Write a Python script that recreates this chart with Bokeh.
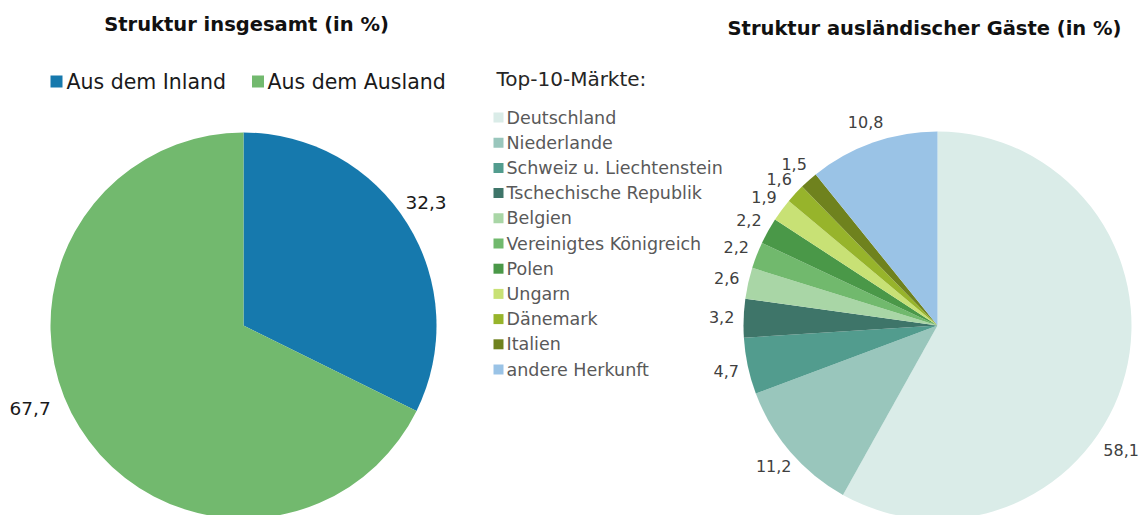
import math
from bokeh.plotting import figure
from bokeh.models import Range1d, ColumnDataSource
from bokeh.embed import file_html
from bokeh.resources import INLINE
from bokeh.core.properties import value

# ---------------- data ----------------
left_title = "Struktur insgesamt (in %)"
left_categories = ["Aus dem Inland", "Aus dem Ausland"]
left_values = [32.3, 67.7]
left_colors = ["#1679ad", "#72b96e"]

right_title = "Struktur ausländischer Gäste (in %)"
right_legend_title = "Top-10-Märkte:"
right_categories = ["Deutschland", "Niederlande", "Schweiz u. Liechtenstein",
                    "Tschechische Republik", "Belgien", "Vereinigtes Königreich",
                    "Polen", "Ungarn", "Dänemark", "Italien", "andere Herkunft"]
right_values = [58.1, 11.2, 4.7, 3.2, 2.6, 2.2, 2.2, 1.9, 1.6, 1.5, 10.8]
right_colors = ["#daece8", "#99c6bc", "#529c8e", "#3e7569", "#a9d6a6", "#71b96d",
                "#4a9848", "#c8e175", "#97b42b", "#6f821e", "#9ac3e6"]

# ---------------- layout ----------------
W, H = 1144, 515
FONT = "DejaVu Sans"


def X(px):
    return px


def Y(py):
    return H - py


p = figure(width=W, height=H, output_backend="svg", toolbar_location=None,
           x_range=Range1d(0, W), y_range=Range1d(0, H), min_border=0)
p.axis.visible = False
p.grid.visible = False
p.outline_line_color = None
p.background_fill_color = "white"
p.border_fill_color = "white"


def fmt(v):
    return f"{v:.1f}".replace(".", ",")


def pie(cx, cy, r, vals, cols, lab_r, shifts, rextra, size, color):
    total = sum(vals)
    c0 = 0.0
    starts, ends, lx, ly, txt = [], [], [], [], []
    for i, v in enumerate(vals):
        c1 = c0 + v / total
        starts.append(math.pi / 2 - 2 * math.pi * c0)
        ends.append(math.pi / 2 - 2 * math.pi * c1)
        mid = (c0 + c1) / 2 * 360 + shifts.get(i, 0)
        rr = lab_r + rextra.get(i, 0)
        lx.append(cx + rr * math.sin(math.radians(mid)))
        ly.append(cy + rr * math.cos(math.radians(mid)))
        txt.append(fmt(v))
        c0 = c1
    src = ColumnDataSource(dict(s=starts, e=ends, c=cols))
    p.wedge(x=cx, y=cy, radius=r, start_angle="s", end_angle="e",
            direction="clock", fill_color="c", line_color=None, source=src)
    p.text(x=lx, y=ly, text=txt, text_align="center", text_baseline="middle",
           text_font=value(FONT), text_font_size=f"{size}px", text_color=color)


# left pie
pie(X(243), Y(325), 193, left_values, left_colors, 220,
    {0: -2.1, 1: 10.6}, {1: 9}, 18.5, "#1a1a1a")
# right pie
pie(X(937), Y(325), 194, right_values, right_colors, 216,
    {0: 19.6}, {0: 6}, 16, "#404040")

# titles
p.text(x=[X(246), X(924)], y=[Y(24), Y(28)], text=[left_title, right_title],
       text_align="center", text_baseline="middle", text_font=value(FONT),
       text_font_size="19.5px", text_font_style="bold", text_color="#111111")

# left legend
lg_x = [X(56), X(257.5)]
p.scatter(x=lg_x, y=[Y(81)] * 2, marker="square", size=12,
          fill_color=left_colors, line_color=None)
p.text(x=[X(66), X(267)], y=[Y(81)] * 2, text=left_categories,
       text_align="left", text_baseline="middle", text_font=value(FONT),
       text_font_size="20.5px", text_color="#1a1a1a")

# right legend
p.text(x=[X(496)], y=[Y(78)], text=[right_legend_title], text_align="left",
       text_baseline="middle", text_font=value(FONT), text_font_size="20px",
       text_color="#262626")
n = len(right_categories)
ry = [Y(117 + 25.2 * i) for i in range(n)]
p.scatter(x=[X(498)] * n, y=ry, marker="square", size=10,
          fill_color=right_colors, line_color=None)
p.text(x=[X(506)] * n, y=ry, text=right_categories, text_align="left",
       text_baseline="middle", text_font=value(FONT), text_font_size="17.5px",
       text_color="#595959")

open("out.html", "w").write(file_html(p, INLINE))
